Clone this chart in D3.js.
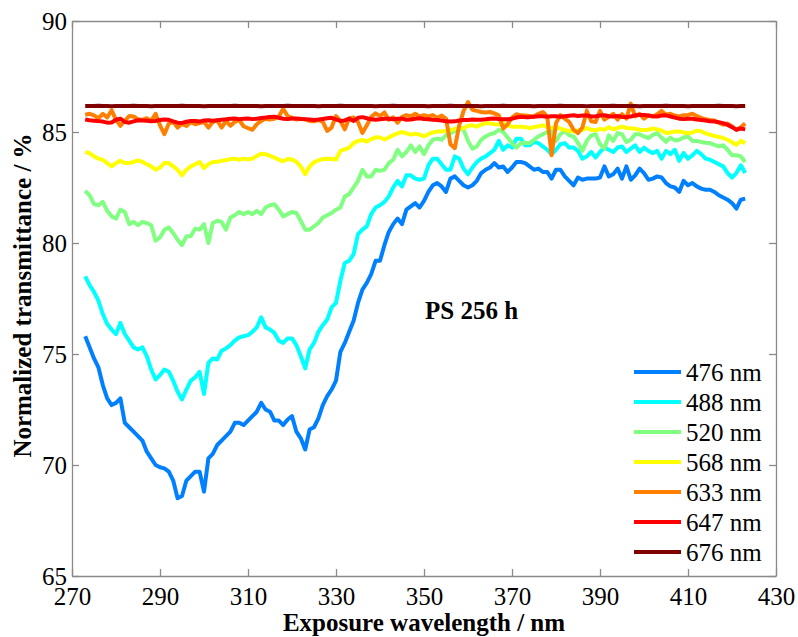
<!DOCTYPE html>
<html>
<head>
<meta charset="utf-8">
<script src="https://cdn.jsdelivr.net/npm/d3@7"></script>
<style>
  body { margin: 0; background: #fff; }
  svg text { font-family: "Liberation Serif", "Times New Roman", Times, serif; fill: #000; }
</style>
</head>
<body>
<svg id="chart" width="798" height="637"></svg>
<script>
// Exposure wavelength grid (nm), one sample per nanometre
const wavelengths = d3.range(273, 424);

// Normalized transmittance (%) for each probe wavelength
const t476 = [
  75.8, 75.3, 74.8, 74.4, 73.6, 73.0, 72.7, 72.8, 73.0, 71.9,
  71.7, 71.5, 71.3, 71.1, 70.6, 70.3, 70.0, 69.9, 69.85, 69.7,
  69.3, 68.5, 68.6, 69.3, 69.5, 69.7, 69.7, 68.8, 70.3, 70.5,
  70.9, 71.1, 71.3, 71.5, 71.9, 71.9, 71.8, 72.0, 72.2, 72.4,
  72.8, 72.5, 72.4, 72.0, 72.0, 71.8, 72.05, 72.2, 71.5, 71.2,
  70.7, 71.6, 71.7, 72.1, 72.7, 73.1, 73.4, 73.8, 75.1, 75.5,
  76.0, 76.5, 77.3, 77.9, 78.2, 78.6, 79.2, 79.2, 79.9, 80.5,
  80.85, 81.1, 80.85, 81.5, 81.65, 81.8, 81.6, 81.9, 82.3, 82.6,
  82.7, 82.55, 82.3, 82.9, 83.0, 82.8, 82.6, 82.5, 82.6, 82.8,
  83.15, 83.3, 83.4, 83.6, 83.4, 83.45, 83.2, 83.4, 83.65, 83.65,
  83.6, 83.45, 83.3, 83.35, 83.2, 83.2, 82.9, 83.3, 83.3, 83.0,
  82.8, 82.6, 82.95, 82.85, 82.9, 82.9, 82.9, 82.95, 83.45, 83.0,
  83.1, 83.35, 82.9, 83.45, 82.85, 83.05, 83.35, 83.15, 82.85, 82.9,
  83.0, 82.95, 82.7, 82.55, 82.5, 82.3, 82.8, 82.6, 82.7, 82.55,
  82.45, 82.4, 82.4, 82.3, 82.15, 82.05, 81.95, 81.8, 81.55, 81.95,
  82.0
];
const t488 = [
  78.5, 78.1, 77.8, 77.4, 76.8, 76.35, 76.1, 75.9, 76.4, 75.9,
  75.6, 75.3, 75.2, 75.3, 74.9, 74.3, 73.85, 74.05, 74.3, 74.2,
  73.8, 73.3, 72.95, 73.4, 73.8, 73.95, 74.2, 73.2, 74.6, 74.8,
  74.75, 75.15, 75.25, 75.4, 75.6, 75.75, 75.8, 75.85, 76.0, 76.2,
  76.65, 76.2, 76.1, 75.95, 75.6, 75.5, 75.7, 75.7, 75.4, 74.9,
  74.35, 75.2, 75.5, 76.0, 76.3, 76.55, 77.1, 77.3, 78.3, 79.1,
  79.2, 79.5, 80.4, 80.6, 80.75, 81.3, 81.6, 81.7, 81.85, 82.1,
  82.5, 82.8, 82.55, 83.05, 83.05, 82.9, 82.85, 82.9, 83.5, 83.8,
  83.8, 83.55, 83.3, 83.3, 83.9, 83.8, 83.35, 83.1, 83.4, 83.65,
  83.8, 83.9, 84.05, 84.2, 84.6, 84.2, 84.4, 84.3, 84.7, 84.7,
  84.4, 84.4, 84.55, 84.5, 84.35, 84.2, 84.0, 84.2, 84.45, 84.5,
  84.3, 84.3, 84.15, 83.8, 83.9, 84.1, 83.85, 84.1, 84.3, 84.2,
  84.1, 84.3, 84.35, 84.1, 84.25, 84.4, 84.1, 84.3, 84.15, 84.05,
  84.15, 83.8, 84.15, 84.0, 84.2, 83.7, 84.05, 83.8, 83.95, 84.15,
  84.0, 83.8, 83.75, 83.65, 83.55, 83.45, 83.15, 82.95, 83.15, 83.5,
  83.15
];
const t520 = [
  82.35, 82.15, 81.75, 81.7, 81.85, 81.45, 81.2, 81.1, 81.5, 81.4,
  80.85, 80.95, 80.8, 80.95, 80.9, 80.8, 80.1, 80.25, 80.6, 80.7,
  80.45, 80.15, 79.9, 80.3, 80.3, 80.65, 80.6, 80.85, 80.0, 80.9,
  81.0, 80.95, 80.6, 81.15, 81.25, 81.4, 81.3, 81.4, 81.3, 81.45,
  81.3, 81.6, 81.7, 81.75, 81.5, 81.2, 81.3, 81.4, 81.35, 81.0,
  80.6, 80.6, 80.75, 80.9, 81.15, 81.25, 81.35, 81.5, 81.6, 82.1,
  82.2, 82.5, 82.8, 83.3, 83.0, 83.0, 83.3, 83.25, 83.3, 83.6,
  83.75, 84.2, 83.9, 84.1, 84.4, 84.1, 84.35, 84.0, 84.4, 84.65,
  84.7, 84.65, 84.85, 84.95, 85.05, 85.15, 85.1, 84.6, 84.25, 84.35,
  84.65, 84.8, 84.9, 84.95, 85.1, 85.0, 84.75, 84.5, 84.3, 84.5,
  84.5, 84.5, 84.65, 84.8, 84.9, 85.0, 85.05, 84.6, 84.9, 85.05,
  84.85, 84.8, 84.5, 84.15, 84.6, 84.85, 84.9, 84.45, 84.25, 84.85,
  84.6, 84.95, 84.9, 84.55, 84.65, 84.9, 84.9, 84.8, 84.72, 84.87,
  84.95, 84.75, 84.56, 84.75, 84.62, 84.65, 84.75, 84.8, 84.6, 84.6,
  84.55, 84.52, 84.5, 84.42, 84.35, 84.4, 84.2, 83.95, 83.95, 83.9,
  83.65
];
const t568 = [
  84.1, 84.05, 83.9, 83.8, 83.75, 83.6, 83.45, 83.6, 83.7, 83.6,
  83.6, 83.65, 83.72, 83.65, 83.55, 83.45, 83.3, 83.4, 83.6, 83.6,
  83.45, 83.3, 83.05, 83.3, 83.45, 83.55, 83.65, 83.38, 83.55, 83.65,
  83.66, 83.7, 83.74, 83.77, 83.8, 83.75, 83.8, 83.76, 83.8, 83.92,
  84.02, 84.0, 83.92, 83.85, 83.75, 83.68, 83.78, 83.76, 83.65, 83.45,
  83.1, 83.45, 83.64, 83.72, 83.78, 83.8, 83.78, 83.76, 84.15, 84.22,
  84.3, 84.5, 84.6, 84.64, 84.57, 84.68, 84.76, 84.75, 84.66, 84.75,
  84.86, 84.94, 85.0, 84.94, 84.88, 84.92, 84.88, 84.8, 84.9, 84.98,
  85.02, 85.02, 85.05, 85.09, 85.14, 85.17, 85.17, 85.28, 85.3, 85.24,
  85.34, 85.39, 85.39, 85.35, 85.34, 85.39, 85.3, 85.24, 85.24, 85.24,
  85.22, 85.18, 85.22, 85.26, 85.3, 85.22, 85.18, 85.23, 85.15, 85.09,
  85.05, 85.02, 85.08, 85.09, 85.18, 85.1, 85.08, 85.14, 85.1, 85.22,
  85.12, 85.18, 85.24, 85.18, 85.17, 85.15, 85.1, 85.09, 85.1, 85.16,
  85.12, 85.07, 84.96, 84.98, 85.02, 85.02, 84.98, 84.94, 84.98, 85.06,
  85.03, 84.93, 84.88, 84.82, 84.78, 84.73, 84.65, 84.54, 84.42, 84.6,
  84.5
];
const t633 = [
  85.78, 85.82, 85.75, 85.62, 85.82, 85.65, 85.98, 85.55, 85.28, 85.5,
  85.72, 85.7, 85.58, 85.55, 85.62, 85.5, 85.82, 85.3, 84.9, 85.38,
  85.46, 85.2, 85.36, 85.27, 85.44, 85.35, 85.4, 85.45, 85.2, 85.45,
  85.52, 85.2, 85.5, 85.28, 85.46, 85.54, 85.26, 85.17, 85.1, 85.35,
  85.5, 85.6, 85.56, 85.6, 85.7, 86.05, 85.72, 85.64, 85.56, 85.6,
  85.56, 85.5, 85.48, 85.54, 85.46, 85.05, 85.2, 85.72, 85.5, 85.12,
  85.62, 85.65, 85.45, 84.96, 85.3, 85.68, 85.84, 85.72, 85.88, 85.55,
  85.66, 85.42, 85.68, 85.76, 85.7, 85.82, 85.7, 85.76, 85.7, 85.76,
  85.64, 85.74, 85.6, 84.45, 84.27, 85.3, 85.95, 86.35, 86.0, 85.95,
  85.9, 85.88, 85.9, 85.84, 85.75, 85.15, 85.35, 85.65, 85.8, 85.75,
  85.74, 85.72, 85.7, 85.82, 85.9, 85.7, 83.95, 85.4, 85.76, 85.6,
  85.45, 85.1, 84.95, 85.2, 85.95, 85.48, 85.45, 85.95, 85.56, 85.68,
  85.82, 85.56, 85.8, 85.6, 86.28, 85.7, 85.82, 85.6, 85.74, 85.7,
  85.8, 85.95, 85.78, 85.82, 85.74, 85.7, 85.76, 85.77, 85.82, 85.72,
  85.64, 85.57, 85.54, 85.52, 85.42, 85.33, 85.38, 85.25, 85.1, 85.22,
  85.38
];
const t647 = [
  85.56, 85.53, 85.51, 85.49, 85.47, 85.42, 85.43, 85.55, 85.6, 85.45,
  85.42, 85.48, 85.53, 85.52, 85.51, 85.48, 85.5, 85.54, 85.56, 85.55,
  85.48, 85.42, 85.41, 85.46, 85.5, 85.5, 85.47, 85.52, 85.53, 85.51,
  85.53, 85.55, 85.57, 85.6, 85.61, 85.58, 85.6, 85.61, 85.58, 85.6,
  85.63, 85.65, 85.68, 85.69, 85.64, 85.6, 85.58, 85.61, 85.61, 85.59,
  85.58, 85.56, 85.54, 85.56, 85.59, 85.62, 85.64, 85.57, 85.5, 85.52,
  85.6, 85.5, 85.64, 85.67, 85.62, 85.57, 85.55, 85.57, 85.6, 85.6,
  85.57, 85.6, 85.6, 85.55, 85.56, 85.6, 85.62, 85.59, 85.57, 85.55,
  85.54, 85.52, 85.48, 85.47, 85.48, 85.52, 85.54, 85.54, 85.56, 85.55,
  85.55, 85.57, 85.6, 85.61, 85.58, 85.57, 85.57, 85.6, 85.65, 85.69,
  85.67, 85.67, 85.69, 85.71, 85.71, 85.69, 85.71, 85.71, 85.69, 85.71,
  85.73, 85.75, 85.72, 85.74, 85.74, 85.7, 85.71, 85.74, 85.76, 85.71,
  85.7, 85.72, 85.68, 85.67, 85.7, 85.75, 85.77, 85.77, 85.74, 85.71,
  85.7, 85.74, 85.75, 85.7, 85.65, 85.6, 85.58, 85.6, 85.6, 85.56,
  85.54, 85.52, 85.48, 85.47, 85.44, 85.4, 85.32, 85.22, 85.1, 85.16,
  85.12
];
const t676 = [
  86.17, 86.17, 86.17, 86.18, 86.17, 86.17, 86.16, 86.17, 86.17, 86.17,
  86.17, 86.18, 86.17, 86.17, 86.17, 86.16, 86.17, 86.17, 86.17, 86.17,
  86.17, 86.17, 86.18, 86.17, 86.17, 86.17, 86.17, 86.16, 86.17, 86.17,
  86.17, 86.17, 86.17, 86.17, 86.18, 86.17, 86.17, 86.17, 86.17, 86.17,
  86.16, 86.17, 86.17, 86.17, 86.17, 86.17, 86.18, 86.17, 86.17, 86.17,
  86.17, 86.17, 86.17, 86.16, 86.17, 86.17, 86.17, 86.17, 86.18, 86.17,
  86.17, 86.17, 86.17, 86.17, 86.17, 86.17, 86.16, 86.17, 86.17, 86.17,
  86.18, 86.17, 86.17, 86.17, 86.17, 86.17, 86.17, 86.17, 86.16, 86.17,
  86.17, 86.17, 86.17, 86.18, 86.17, 86.17, 86.17, 86.17, 86.17, 86.17,
  86.16, 86.17, 86.17, 86.17, 86.17, 86.18, 86.17, 86.17, 86.17, 86.17,
  86.17, 86.17, 86.16, 86.17, 86.17, 86.17, 86.17, 86.17, 86.18, 86.17,
  86.17, 86.17, 86.17, 86.17, 86.16, 86.17, 86.17, 86.17, 86.17, 86.17,
  86.18, 86.17, 86.17, 86.17, 86.17, 86.17, 86.16, 86.17, 86.17, 86.17,
  86.17, 86.17, 86.18, 86.17, 86.17, 86.17, 86.17, 86.16, 86.17, 86.17,
  86.17, 86.17, 86.17, 86.17, 86.18, 86.17, 86.17, 86.17, 86.16, 86.17,
  86.17
];

const seriesLabels = ["476 nm", "488 nm", "520 nm", "568 nm", "633 nm", "647 nm", "676 nm"];
const seriesValues = [t476, t488, t520, t568, t633, t647, t676];
const seriesColors = ["#0080ff", "#00ffff", "#80ff80", "#ffff00", "#ff8000", "#ff0000", "#800000"];

const xTicks = [270, 290, 310, 330, 350, 370, 390, 410, 430];
const yTicks = [65, 70, 75, 80, 85, 90];
const annotation = "PS 256 h";

// ---- layout ----
const plot = { left: 72, right: 776, top: 21, bottom: 576 };
const axisColor = "#8a8a8a";
const serif = '"Liberation Serif", "Times New Roman", Times, serif';

const svg = d3.select("#chart");
const x = d3.scaleLinear().domain([270, 430]).range([plot.left, plot.right]);
const y = d3.scaleLinear().domain([65, 90]).range([plot.bottom, plot.top]);

// ---- series ----
const line = d3.line()
  .x(d => x(d[0]))
  .y(d => y(d[1]));

const lines = svg.append("g");
seriesValues.forEach((vals, i) => {
  const pts = wavelengths.map((w, j) => [w, vals[j]]);
  lines.append("path")
    .datum(pts)
    .attr("fill", "none")
    .attr("stroke", seriesColors[i])
    .attr("stroke-width", 4)
    .attr("stroke-linejoin", "round")
    .attr("stroke-linecap", "butt")
    .attr("d", line);
});

// ---- axes (box with inward ticks) ----
function styleAxis(g) {
  g.attr("font-family", serif).attr("font-size", 25);
  g.selectAll(".domain").attr("stroke", axisColor).attr("stroke-width", 1.3);
  g.selectAll(".tick line").attr("stroke", axisColor).attr("stroke-width", 1.3);
  g.selectAll(".tick text")
    .attr("fill", "#000")
    .style("font-family", serif)
    .style("font-size", "25px");
}

svg.append("g")
  .attr("transform", `translate(0,${plot.bottom})`)
  .call(d3.axisBottom(x).tickValues(xTicks).tickFormat(d3.format("d"))
    .tickSizeInner(-7).tickSizeOuter(0).tickPadding(11))
  .call(styleAxis);

svg.append("g")
  .attr("transform", `translate(0,${plot.top})`)
  .call(d3.axisTop(x).tickValues(xTicks).tickFormat("")
    .tickSizeInner(-7).tickSizeOuter(0))
  .call(styleAxis);

svg.append("g")
  .attr("transform", `translate(${plot.left},0)`)
  .call(d3.axisLeft(y).tickValues(yTicks).tickFormat(d3.format("d"))
    .tickSizeInner(-7).tickSizeOuter(0).tickPadding(5))
  .call(styleAxis);

svg.append("g")
  .attr("transform", `translate(${plot.right},0)`)
  .call(d3.axisRight(y).tickValues(yTicks).tickFormat("")
    .tickSizeInner(-7).tickSizeOuter(0))
  .call(styleAxis);

// ---- axis titles ----
svg.append("text")
  .attr("x", (plot.left + plot.right) / 2)
  .attr("y", 631)
  .attr("text-anchor", "middle")
  .style("font-size", "25px")
  .style("font-weight", "bold")
  .text("Exposure wavelength / nm");

svg.append("text")
  .attr("transform", `translate(31,${(plot.top + plot.bottom) / 2 - 3}) rotate(-90)`)
  .attr("text-anchor", "middle")
  .style("font-size", "25px")
  .style("font-weight", "bold")
  .text("Normalized transmittance / %");

// ---- annotation ----
svg.append("text")
  .attr("x", 425)
  .attr("y", 319)
  .style("font-size", "25px")
  .style("font-weight", "bold")
  .text(annotation);

// ---- legend ----
const legend = svg.append("g");
seriesLabels.forEach((lab, i) => {
  const ly = 372 + i * 30;
  legend.append("line")
    .attr("x1", 634).attr("x2", 681)
    .attr("y1", ly).attr("y2", ly)
    .attr("stroke", seriesColors[i])
    .attr("stroke-width", 4);
  legend.append("text")
    .attr("x", 686)
    .attr("y", ly + 9)
    .style("font-size", "25px")
    .text(lab);
});
</script>
</body>
</html>
